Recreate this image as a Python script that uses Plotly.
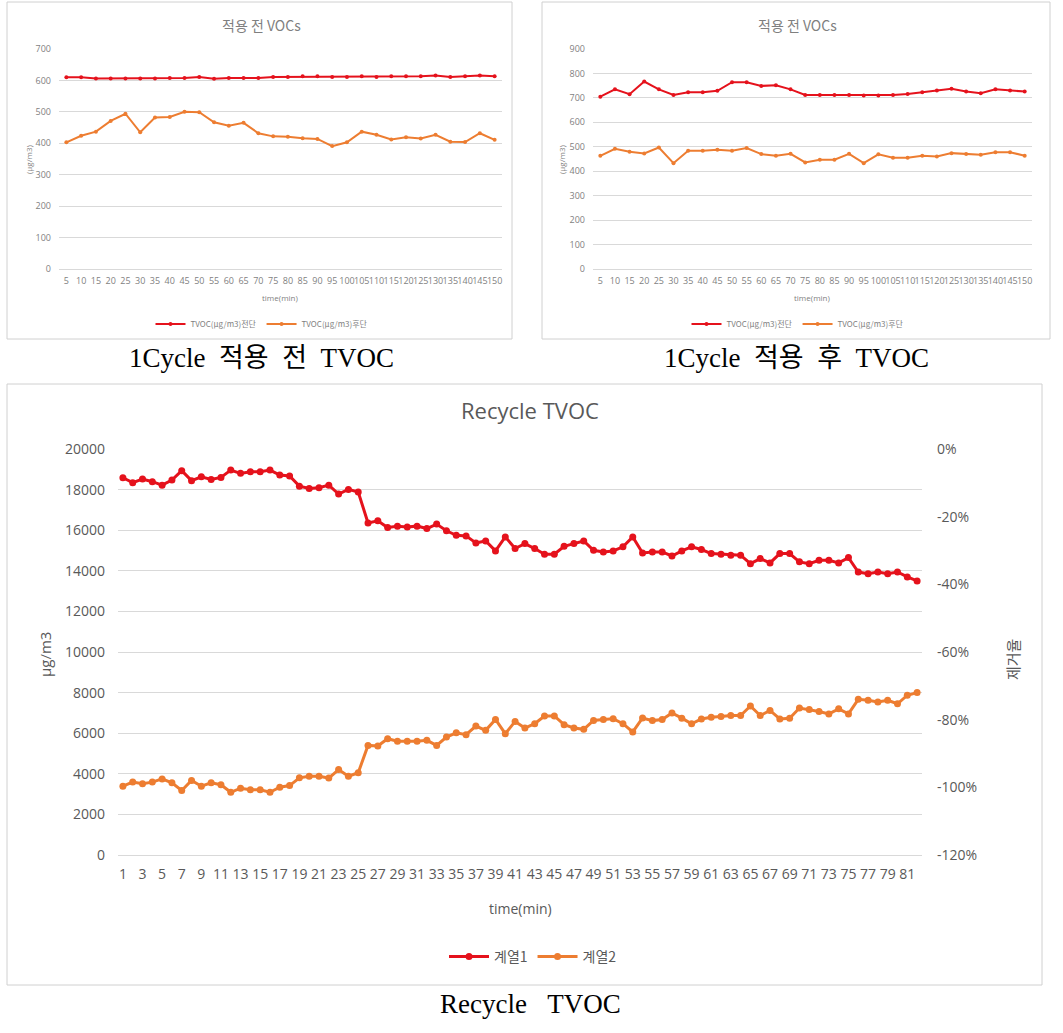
import plotly.graph_objects as go

# ---------------- data ----------------
time_1cycle = [5, 10, 15, 20, 25, 30, 35, 40, 45, 50, 55, 60, 65, 70, 75,
               80, 85, 90, 95, 100, 105, 110, 115, 120, 125, 130, 135, 140, 145, 150]

pre_front = [610, 610, 606, 606, 606, 606, 606, 608, 608, 611, 605, 608, 608, 608, 611,
             611, 613, 613, 611, 611, 613, 611, 613, 613, 613, 616, 611, 613, 616, 613]
pre_rear = [403, 424, 437, 471, 494, 435, 482, 484, 500, 499, 467, 456, 465, 432, 422,
            421, 416, 414, 391, 403, 437, 427, 412, 419, 415, 427, 405, 404, 432, 411]

post_front = [705, 735, 715, 767, 735, 712, 723, 723, 729, 764, 764, 749, 752, 735, 712,
              712, 712, 712, 710, 710, 712, 716, 723, 730, 737, 726, 719, 735, 730, 726]
post_rear = [463, 492, 480, 473, 497, 433, 484, 484, 488, 484, 495, 470, 463, 471, 436,
             447, 447, 471, 433, 469, 455, 455, 463, 460, 474, 470, 467, 478, 478, 463]

recycle_time = list(range(1, 83))
recycle_s1 = [18585, 18340, 18520, 18390, 18220, 18470, 18930, 18440, 18630, 18500,
              18600, 18960, 18800, 18880, 18880, 18960, 18720, 18670, 18170, 18060,
              18090, 18220, 17780, 18010, 17880, 16360, 16460, 16130, 16200, 16160,
              16200, 16080, 16300, 15970, 15750, 15720, 15370, 15470, 14980, 15670,
              15100, 15340, 15095, 14815, 14815, 15210, 15340, 15470, 15010, 14930,
              14980, 15180, 15670, 14880, 14930, 14930, 14730, 14980, 15180, 15050,
              14850, 14815, 14770, 14770, 14350, 14600, 14390, 14850, 14850, 14440,
              14350, 14520, 14520, 14390, 14650, 13940, 13860, 13940, 13860, 13940,
              13700, 13500]
recycle_s2 = [3390, 3590, 3510, 3590, 3750, 3555, 3180, 3670, 3390, 3555,
              3460, 3090, 3290, 3210, 3210, 3090, 3340, 3420, 3800, 3880,
              3880, 3790, 4210, 3880, 4050, 5400, 5370, 5730, 5600, 5600,
              5600, 5650, 5400, 5810, 6020, 5925, 6350, 6140, 6680, 5975,
              6580, 6255, 6470, 6850, 6850, 6420, 6255, 6190, 6630, 6680,
              6715, 6470, 6060, 6750, 6620, 6670, 7000, 6740, 6460, 6700,
              6790, 6820, 6870, 6870, 7340, 6870, 7120, 6700, 6740, 7240,
              7170, 7070, 6950, 7200, 6950, 7670, 7620, 7535, 7620, 7450,
              7870, 8000]

recycle_xticks = list(range(1, 82, 2))
right_tickvals = [0, -0.2, -0.4, -0.6, -0.8, -1.0, -1.2]
right_ticktext = ["0%", "-20%", "-40%", "-60%", "-80%", "-100%", "-120%"]

# ---------------- styling ----------------
W, H = 1063, 1033
RED = "#e5121c"
ORANGE = "#ed7d31"
GRID = "#d9d9d9"
TXT = "#595959"
FONT = "Open Sans, Noto Sans CJK KR, sans-serif"
KFONT = "Noto Sans CJK KR, sans-serif"
SERIF = "Liberation Serif, Noto Sans CJK KR, serif"
GAP = "\u2002"
GAP2 = " \u2002"


def px(x):
    return x / W


def py(y):
    return 1 - y / H


fig = go.Figure()

fig.add_trace(go.Scatter(x=time_1cycle, y=pre_front, mode="lines+markers", name="TVOC(μg/m3)전단",
                         line=dict(color=RED, width=2), marker=dict(size=4, color=RED),
                         xaxis="x", yaxis="y", legend="legend"))
fig.add_trace(go.Scatter(x=time_1cycle, y=pre_rear, mode="lines+markers", name="TVOC(μg/m3)후단",
                         line=dict(color=ORANGE, width=2), marker=dict(size=4, color=ORANGE),
                         xaxis="x", yaxis="y", legend="legend"))
fig.add_trace(go.Scatter(x=time_1cycle, y=post_front, mode="lines+markers", name="TVOC(μg/m3)전단",
                         line=dict(color=RED, width=2), marker=dict(size=4, color=RED),
                         xaxis="x2", yaxis="y2", legend="legend2"))
fig.add_trace(go.Scatter(x=time_1cycle, y=post_rear, mode="lines+markers", name="TVOC(μg/m3)후단",
                         line=dict(color=ORANGE, width=2), marker=dict(size=4, color=ORANGE),
                         xaxis="x2", yaxis="y2", legend="legend2"))
fig.add_trace(go.Scatter(x=recycle_time, y=recycle_s1, mode="lines+markers", name="계열1",
                         line=dict(color=RED, width=3), marker=dict(size=7, color=RED),
                         xaxis="x3", yaxis="y3", legend="legend3"))
fig.add_trace(go.Scatter(x=recycle_time, y=recycle_s2, mode="lines+markers", name="계열2",
                         line=dict(color=ORANGE, width=3), marker=dict(size=7, color=ORANGE),
                         xaxis="x3", yaxis="y3", legend="legend3"))
fig.add_trace(go.Scatter(x=[None], y=[None], xaxis="x3", yaxis="y4", showlegend=False,
                         hoverinfo="skip"))

small_tick = dict(size=9, color="#7f7f7f", family=FONT)
big_tick = dict(size=14, color=TXT, family=FONT)

top_y = [py(269), py(49)]

fig.update_layout(
    width=W, height=H, margin=dict(l=0, r=0, t=0, b=0, autoexpand=False),
    paper_bgcolor="white", plot_bgcolor="white",
    font=dict(family=FONT, color=TXT),
    xaxis=dict(domain=[px(59), px(502)], anchor="y", range=[2.5, 152.5],
               tickvals=time_1cycle, ticktext=[str(t) for t in time_1cycle],
               tickangle=0, tickfont=small_tick, showgrid=False, zeroline=False,
               showline=True, linecolor=GRID, ticks="", ticklabelstandoff=3, automargin=False),
    yaxis=dict(domain=top_y, anchor="x", range=[0, 700], dtick=100,
               tickfont=small_tick, showgrid=True, gridcolor=GRID, zeroline=False,
               ticks="", ticklabelstandoff=7, automargin=False),
    xaxis2=dict(domain=[px(593), px(1032)], anchor="y2", range=[2.5, 152.5],
                tickvals=time_1cycle, ticktext=[str(t) for t in time_1cycle],
                tickangle=0, tickfont=small_tick, showgrid=False, zeroline=False,
                showline=True, linecolor=GRID, ticks="", ticklabelstandoff=3, automargin=False),
    yaxis2=dict(domain=top_y, anchor="x2", range=[0, 900], dtick=100,
                tickfont=small_tick, showgrid=True, gridcolor=GRID, zeroline=False,
                ticks="", ticklabelstandoff=7, automargin=False),
    xaxis3=dict(domain=[px(118), px(922)], anchor="y3", range=[0.5, 82.5],
                tickvals=recycle_xticks, ticktext=[str(t) for t in recycle_xticks],
                tickangle=0, tickfont=big_tick, showgrid=False, zeroline=False,
                showline=True, linecolor=GRID, ticks="", ticklabelstandoff=6, automargin=False),
    yaxis3=dict(domain=[py(855), py(449)], anchor="x3", range=[0, 20000], dtick=2000,
                tickformat="d",
                tickfont=big_tick, showgrid=True, gridcolor=GRID, zeroline=False,
                ticks="", ticklabelstandoff=12, automargin=False),
    yaxis4=dict(overlaying="y3", side="right", anchor="x3", range=[-1.2, 0],
                tickvals=right_tickvals, ticktext=right_ticktext, tickfont=big_tick,
                showgrid=False, zeroline=False, ticks="", ticklabelstandoff=14, automargin=False),
    legend=dict(orientation="h", x=px(262), y=py(324), xanchor="center", yanchor="middle",
                font=dict(size=8, color="#7f7f7f", family=KFONT), itemwidth=30,
                bgcolor="rgba(0,0,0,0)"),
    legend2=dict(orientation="h", x=px(798), y=py(324), xanchor="center", yanchor="middle",
                 font=dict(size=8, color="#7f7f7f", family=KFONT), itemwidth=30,
                 bgcolor="rgba(0,0,0,0)"),
    legend3=dict(orientation="h", x=px(533), y=py(957), xanchor="center", yanchor="middle",
                 font=dict(size=14, color=TXT, family=KFONT), itemwidth=40,
                 bgcolor="rgba(0,0,0,0)"),
    showlegend=True,
)

for (x0, y0, x1, y1) in [(7, 2, 512, 339), (542, 2, 1050, 339), (7, 384, 1042, 985)]:
    fig.add_shape(type="rect", xref="paper", yref="paper",
                  x0=px(x0), x1=px(x1), y0=py(y1), y1=py(y0),
                  line=dict(color="#d0d0d0", width=1), fillcolor="rgba(0,0,0,0)", layer="below")

ann = []
ann.append(dict(text="적용 전 VOCs", x=px(261), y=py(25), font=dict(size=14, color="#7f7f7f", family=KFONT)))
ann.append(dict(text="적용 전 VOCs", x=px(797), y=py(25), font=dict(size=14, color="#7f7f7f", family=KFONT)))
ann.append(dict(text="Recycle TVOC", x=px(530), y=py(410), font=dict(size=22, color=TXT, family=FONT)))
ann.append(dict(text="time(min)", x=px(280), y=py(297), font=dict(size=8, color="#7f7f7f", family=FONT)))
ann.append(dict(text="time(min)", x=px(812), y=py(297), font=dict(size=8, color="#7f7f7f", family=FONT)))
ann.append(dict(text="time(min)", x=px(520), y=py(908), font=dict(size=14, color=TXT, family=FONT)))
ann.append(dict(text="(μg/m3)", x=px(29), y=py(159), textangle=-90, font=dict(size=8, color="#7f7f7f", family=FONT)))
ann.append(dict(text="(μg/m3)", x=px(562), y=py(159), textangle=-90, font=dict(size=8, color="#7f7f7f", family=FONT)))
ann.append(dict(text="μg/m3", x=px(45), y=py(655), textangle=-90, font=dict(size=15, color=TXT, family=FONT)))
ann.append(dict(text="제거율", x=px(1012), y=py(660), textangle=-90, font=dict(size=15, color=TXT, family=KFONT)))
ann.append(dict(text="1Cycle" + GAP + "적용" + GAP + "전" + GAP + "TVOC", x=px(261), y=py(358),
                font=dict(size=27, color="black", family=SERIF)))
ann.append(dict(text="1Cycle" + GAP + "적용" + GAP + "후" + GAP + "TVOC", x=px(796), y=py(358),
                font=dict(size=27, color="black", family=SERIF)))
ann.append(dict(text="Recycle" + GAP2 + "TVOC", x=px(530), y=py(1004), font=dict(size=27, color="black", family=SERIF)))

for a in ann:
    a.update(xref="paper", yref="paper", showarrow=False, xanchor="center", yanchor="middle")
    fig.add_annotation(**a)

fig.write_html("out.html", config={"displayModeBar": False},
               post_script="document.body.style.margin='0';")
